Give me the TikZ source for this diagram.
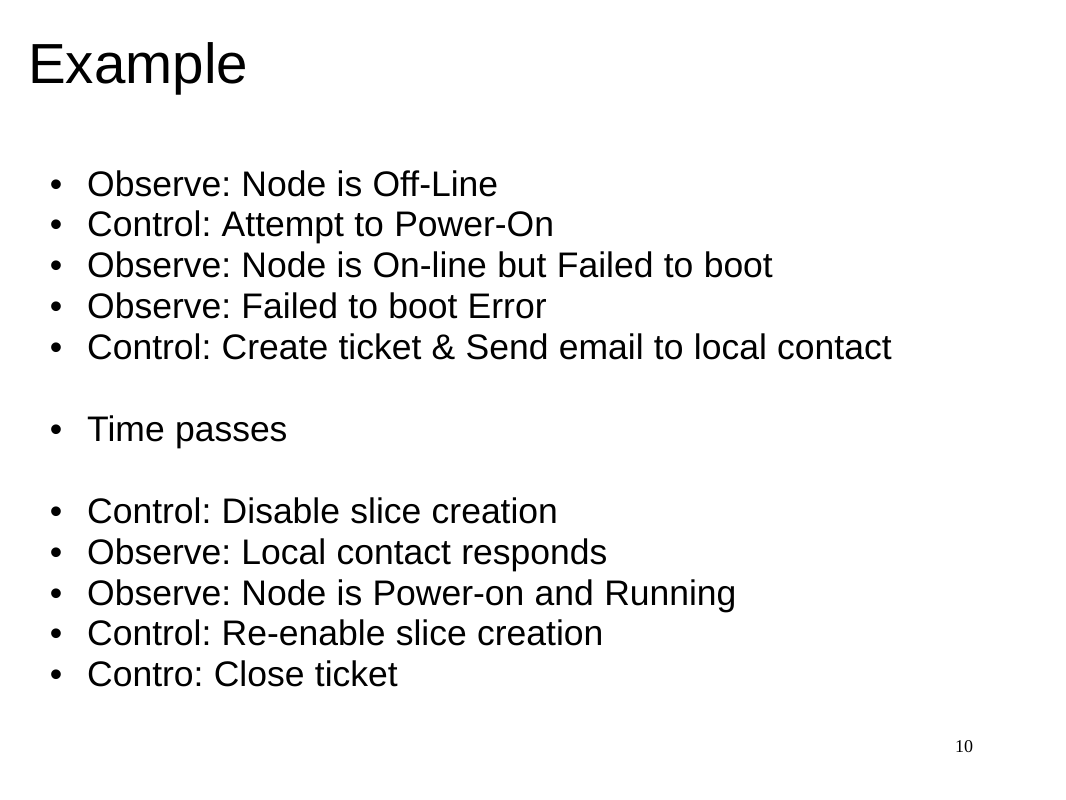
\documentclass[tikz,border=0pt]{standalone}
\usepackage{fontspec}
\setmainfont{Liberation Sans}
\newfontfamily\pagefont{Liberation Serif}
\usetikzlibrary{positioning,calc}
\frenchspacing
\newcommand{\widespace}{\spaceskip=0.29em plus 0.1em\relax}
\tikzset{
  slidetitle/.style={anchor=base west,inner sep=0pt,font=\fontsize{56.5}{62}\selectfont},
  itemtext/.style={anchor=base west,inner sep=0pt,font=\fontsize{35.5}{42}\selectfont},
  itemdot/.style={anchor=base,inner sep=0pt,font=\fontsize{35.5}{42}\selectfont},
  pagenum/.style={anchor=base west,inner sep=0pt,font=\pagefont\fontsize{18}{20}\selectfont}
}
\begin{document}
\begin{tikzpicture}[x=1pt,y=-1pt]
    \useasboundingbox (0,0) rectangle (1066,800); % slide size
    \coordinate (TitleBase) at (28,84);
    \coordinate (ListTop)   at (87,196);

    \node[slidetitle] (title) at (TitleBase) {Example};

    % the bullet list, \k counts lines from the top (gaps left free)
    \foreach \k/\txt in {0/{Observe: Node is Off-Line},
                         1/{Control: Attempt to Power-On},
                         2/{Observe: Node is On-line but Failed to boot},
                         3/{Observe: Failed to boot Error},
                         4/{Control: Create ticket \& Send email to local contact},
                         6/{Time passes},
                         8/{Control: Disable slice creation},
                         9/{Observe: Local contact responds},
                         10/{Observe: Node is Power-on and Running},
                         11/{Control: Re-enable slice creation},
                         12/{Contro: Close ticket}}{%
      \node[itemtext] (item\k) at ($(ListTop)+(0,40.9*\k)$) {\widespace\txt};
      \node[itemdot] (dot\k) at ($(item\k.base west)+(-31,0)$) {\textbullet};
    }

    \node[pagenum] (page) at (955,752) {10}; % slide number
\end{tikzpicture}
\end{document}
